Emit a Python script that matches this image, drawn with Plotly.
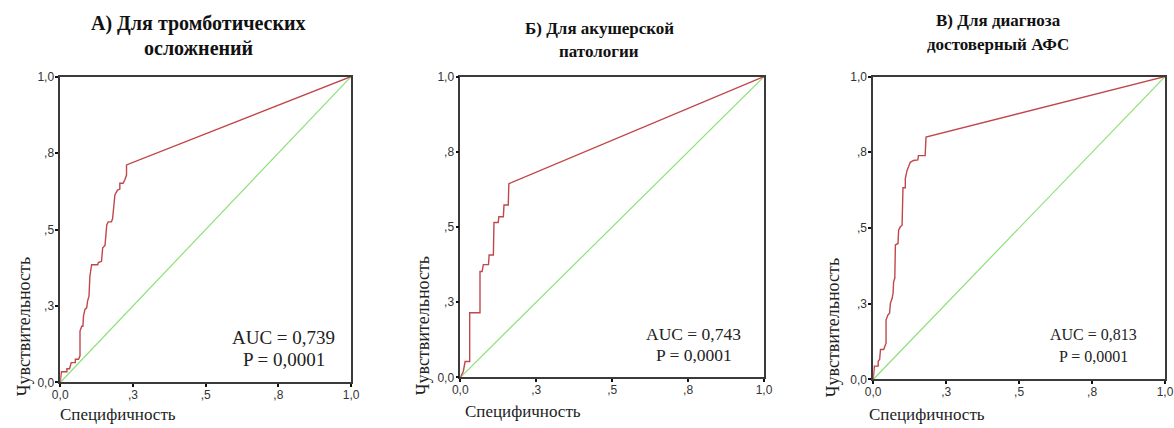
import plotly.graph_objects as go

# ---------------- data ----------------
tick_vals = [0, 0.25, 0.5, 0.75, 1.0]
tick_text = ["0,0", ",3", ",5", ",8", "1,0"]

title_line1 = ["А) Для тромботических", "Б) Для акушерской", "В) Для диагноза"]
title_line2 = ["осложнений", "патологии", "достоверный АФС"]
auc_text = ["AUC = 0,739", "AUC = 0,743", "AUC = 0,813"]
p_text = ["P = 0,0001", "P = 0,0001", "P = 0,0001"]
x_title = "Специфичность"
y_title = "Чувствительность"

roc1_x = [0, 0.004, 0.023, 0.023, 0.032, 0.038, 0.052, 0.052, 0.063, 0.066, 0.068, 0.068,
          0.074, 0.078, 0.080, 0.085, 0.091, 0.094, 0.099, 0.102, 0.108, 0.129, 0.131, 0.142,
          0.146, 0.154, 0.157, 0.160, 0.165, 0.176, 0.180, 0.182, 0.188, 0.197, 0.205, 0.205,
          0.216, 0.222, 0.228, 0.228, 1.0]
roc1_y = [0, 0.035, 0.035, 0.045, 0.045, 0.065, 0.065, 0.076, 0.076, 0.087, 0.087, 0.168,
          0.184, 0.184, 0.217, 0.239, 0.244, 0.266, 0.282, 0.347, 0.385, 0.385, 0.392, 0.396,
          0.440, 0.448, 0.483, 0.515, 0.525, 0.525, 0.535, 0.558, 0.613, 0.629, 0.632, 0.651,
          0.651, 0.662, 0.678, 0.711, 1.0]

roc2_x = [0, 0.010, 0.016, 0.031, 0.031, 0.065, 0.065, 0.072, 0.076, 0.093, 0.095, 0.109,
          0.111, 0.125, 0.127, 0.142, 0.144, 0.158, 0.160, 1.0]
roc2_y = [0, 0.020, 0.053, 0.053, 0.215, 0.215, 0.352, 0.352, 0.375, 0.375, 0.407, 0.407,
          0.515, 0.515, 0.534, 0.534, 0.573, 0.573, 0.644, 1.0]

roc3_x = [0, 0.004, 0.017, 0.017, 0.022, 0.025, 0.036, 0.040, 0.044, 0.044, 0.051, 0.056,
          0.059, 0.065, 0.068, 0.070, 0.074, 0.076, 0.085, 0.087, 0.093, 0.099, 0.101, 0.102,
          0.110, 0.110, 0.116, 0.121, 0.127, 0.138, 0.153, 0.155, 0.178, 0.181, 1.0]
roc3_y = [0, 0.044, 0.044, 0.060, 0.066, 0.099, 0.099, 0.110, 0.120, 0.197, 0.214, 0.219,
          0.252, 0.268, 0.285, 0.323, 0.334, 0.444, 0.449, 0.493, 0.504, 0.509, 0.602, 0.633,
          0.633, 0.663, 0.690, 0.701, 0.717, 0.723, 0.725, 0.739, 0.739, 0.800, 1.0]

ref_x = [0, 1]
ref_y = [0, 1]

rocs = [(roc1_x, roc1_y), (roc2_x, roc2_y), (roc3_x, roc3_y)]

# ---------------- layout (target page pixels) ----------------
W, H = 1174, 428
frames = [(55, 348, 76, 383), (458, 764, 76, 378), (874, 1168, 76, 380)]
title_pos = [(194, 23, 47), (598, 28, 51), (1000, 20, 44)]
title_size = [20, 17, 17]
ytitle_pos = [(18, 327), (420, 326), (833, 328)]
xtitle_pos = [(53, 415), (461, 412), (868, 415)]
auc_pos = [(280, 338, 360), (693, 334, 355), (1096, 335, 357)]
auc_size = [19, 17.5, 16]

# measured correction between requested and photographed positions
OX, SX = 2.4, 0.9928
OY, SY = 6.2, 0.9707

RED = "#c0474a"
GREEN = "#8ee07a"
SERIF = "Liberation Serif"
SANS = "Liberation Sans"


def px(x):
    return min(max(((x - OX) / SX) / W, 0), 1)


def py(y):
    return min(max(1 - ((y - OY) / SY) / H, 0), 1)


fig = go.Figure()
annotations = []
for i, (rx, ry) in enumerate(rocs):
    n = "" if i == 0 else str(i + 1)
    x0, x1, y0, y1 = frames[i]
    fig.add_trace(go.Scatter(x=ref_x, y=ref_y, mode="lines", xaxis="x" + n, yaxis="y" + n,
                             line=dict(color=GREEN, width=1.2), showlegend=False, hoverinfo="skip"))
    fig.add_trace(go.Scatter(x=rx, y=ry, mode="lines", xaxis="x" + n, yaxis="y" + n,
                             line=dict(color=RED, width=1.4), showlegend=False))
    ax = dict(range=[0, 1], tickvals=tick_vals, ticktext=tick_text, showgrid=False, zeroline=False,
              showline=True, linecolor="#3a3a3a", linewidth=1.5, mirror=True,
              ticks="outside", ticklen=3, tickwidth=2, tickcolor="#111",
              tickfont=dict(family=SANS, size=12, color="#333"))
    fig.layout["xaxis" + n] = dict(ax, domain=[px(x0), px(x1)], anchor="y" + n, ticklabelstandoff=-3)
    fig.layout["yaxis" + n] = dict(ax, domain=[py(y1), py(y0)], anchor="x" + n, ticklabelstandoff=-1)

    cx, l1, l2 = title_pos[i]
    tf = dict(family=SERIF, size=title_size[i], color="#111")
    annotations.append(dict(text="<b>" + title_line1[i] + "</b>", x=px(cx), y=py(l1), font=tf))
    annotations.append(dict(text="<b>" + title_line2[i] + "</b>", x=px(cx), y=py(l2), font=tf))

    yx, yy = ytitle_pos[i]
    annotations.append(dict(text=y_title, x=px(yx), y=py(yy), textangle=-90,
                            font=dict(family=SERIF, size=18, color="#222")))
    xx, xy = xtitle_pos[i]
    annotations.append(dict(text=x_title, x=px(xx), y=py(xy), xanchor="left",
                            font=dict(family=SERIF, size=17, color="#222")))
    ax_, a1, a2 = auc_pos[i]
    af = dict(family=SERIF, size=auc_size[i], color="#222")
    annotations.append(dict(text=auc_text[i], x=px(ax_), y=py(a1), font=af))
    annotations.append(dict(text=p_text[i], x=px(ax_), y=py(a2), font=af))

for a in annotations:
    a.setdefault("xanchor", "center")
    a.update(xref="paper", yref="paper", yanchor="middle", showarrow=False)

fig.update_layout(width=W, height=H, margin=dict(l=0, r=0, t=0, b=0),
                  paper_bgcolor="white", plot_bgcolor="white", annotations=annotations)

# remove the default page margin so the figure fills the window exactly
fig.write_html("out.html", config={"displayModeBar": False},
               post_script="document.body.style.margin='0';document.body.style.overflow='hidden';")
